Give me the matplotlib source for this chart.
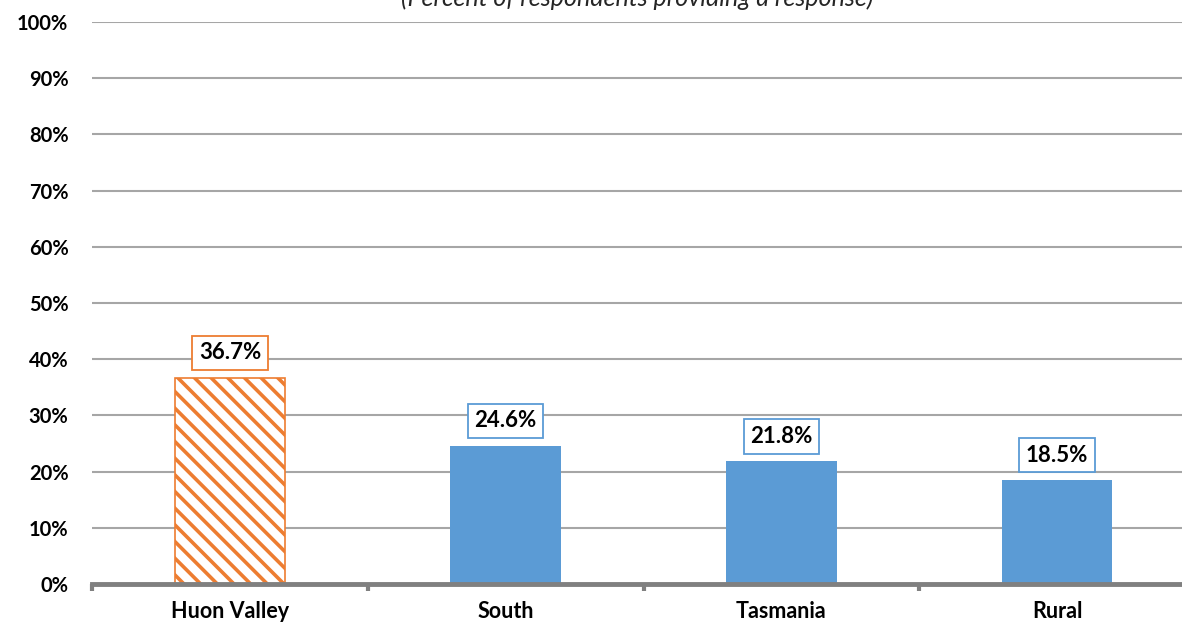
import numpy as np
import matplotlib.pyplot as plt

# Share of respondents by area
categories = ['Huon Valley', 'South', 'Tasmania', 'Rural']
values = [36.7, 24.6, 21.8, 18.5]
yticks = [0, 10, 20, 30, 40, 50, 60, 70, 80, 90, 100]

orange = '#ED7D31'
blue = '#5B9BD5'
font = ['Lato', 'DejaVu Sans']

plt.rcParams['hatch.linewidth'] = 2.6
plt.rcParams['font.family'] = font

fig = plt.figure(figsize=(11.82, 6.24), dpi=100)
ax = fig.add_axes([92 / 1182, 1 - 584 / 624, 1103 / 1182, 562 / 624])

x = np.arange(len(categories))
for i, v in enumerate(values):
    if i == 0:
        ax.bar(x[i], v, width=0.4, facecolor='white', edgecolor=orange,
               hatch='\\\\', linewidth=1.2, zorder=3)
        ec = orange
    else:
        ax.bar(x[i], v, width=0.4, color=blue, zorder=3)
        ec = blue
    ax.annotate(f'{v:.1f}%', (x[i], v), xytext=(0, 18), textcoords='offset points',
                ha='center', va='center', fontsize=16, fontweight='bold',
                bbox=dict(boxstyle='square,pad=0.3', fc='white', ec=ec, lw=1.3),
                zorder=4)

ax.set_xlim(-0.5, 3.5)
ax.set_ylim(0, 100)
ax.set_yticks(yticks)
ax.set_yticklabels([f'{t}%' for t in yticks], fontsize=14.5, fontweight='bold')
ax.yaxis.grid(True, color='#A6A6A6', linewidth=1.5, zorder=0)
ax.tick_params(axis='y', length=0, pad=17)

# category labels at centres, tick marks on the boundaries
ax.set_xticks(x)
ax.set_xticklabels(categories, fontsize=15.5, fontweight='bold')
ax.set_xticks(np.arange(-0.5, 3.6, 1.0), minor=True)
ax.tick_params(axis='x', which='major', length=0, pad=12)
ax.tick_params(axis='x', which='minor', length=5, width=3, color='#808080')

for side in ['top', 'right', 'left']:
    ax.spines[side].set_visible(False)
ax.spines['bottom'].set_color('#808080')
ax.spines['bottom'].set_linewidth(3.5)
ax.spines['bottom'].set_zorder(5)

fig.text(0.539, 1 - 6 / 624, '(Percent of respondents providing a response)',
         ha='center', va='baseline', fontsize=18, style='italic', color='#262626')

fig.savefig('out.png', dpi=100)
